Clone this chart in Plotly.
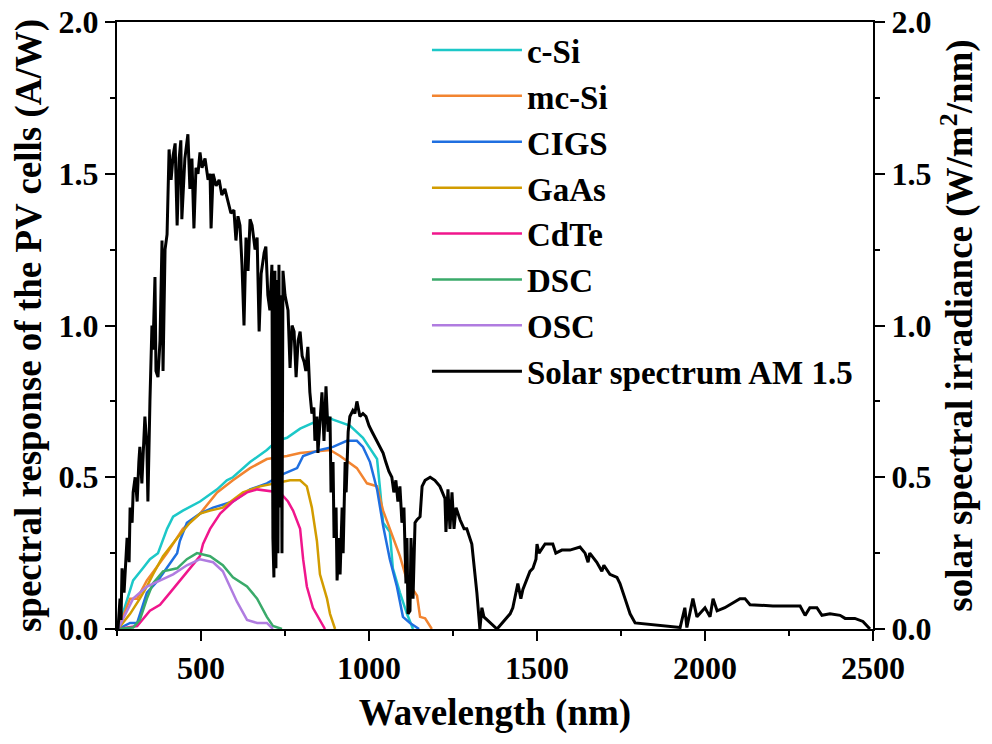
import plotly.graph_objects as go

# ---------------- data ----------------
csi_x = [253, 280, 298, 327, 348, 372, 399, 417, 446, 497, 548, 577, 595, 646, 696, 726, 756, 795, 833, 875, 893, 943, 982, 1012, 1024, 1033, 1042, 1062, 1071, 1092, 1113, 1131]
csi_y = [0, 0.10, 0.16, 0.20, 0.23, 0.25, 0.33, 0.37, 0.39, 0.42, 0.46, 0.49, 0.50, 0.55, 0.59, 0.62, 0.63, 0.66, 0.68, 0.70, 0.69, 0.67, 0.63, 0.58, 0.56, 0.46, 0.35, 0.32, 0.20, 0.12, 0.05, 0.0]

mcsi_x = [253, 280, 289, 310, 339, 399, 446, 497, 548, 595, 646, 696, 756, 795, 884, 914, 964, 994, 1024, 1042, 1071, 1092, 1113, 1143, 1152, 1167, 1187]
mcsi_y = [0, 0.08, 0.10, 0.10, 0.16, 0.25, 0.33, 0.38, 0.45, 0.49, 0.53, 0.56, 0.57, 0.58, 0.59, 0.57, 0.53, 0.48, 0.47, 0.39, 0.30, 0.24, 0.16, 0.11, 0.04, 0.035, 0.0]

cigs_x = [253, 289, 310, 339, 372, 429, 437, 458, 497, 536, 595, 646, 696, 744, 786, 804, 854, 893, 934, 964, 982, 1003, 1024, 1042, 1062, 1083, 1101, 1122, 1149]
cigs_y = [0, 0.02, 0.02, 0.12, 0.16, 0.25, 0.29, 0.35, 0.38, 0.40, 0.42, 0.46, 0.48, 0.51, 0.53, 0.57, 0.59, 0.60, 0.62, 0.62, 0.60, 0.55, 0.46, 0.34, 0.23, 0.14, 0.04, 0.02, 0.0]

gaas_x = [253, 289, 318, 339, 357, 387, 429, 467, 497, 527, 565, 625, 676, 726, 765, 795, 815, 830, 845, 854, 875, 884, 899]
gaas_y = [0, 0.05, 0.10, 0.14, 0.18, 0.24, 0.30, 0.35, 0.38, 0.39, 0.40, 0.45, 0.47, 0.48, 0.49, 0.49, 0.47, 0.40, 0.29, 0.18, 0.10, 0.05, 0.0]

cdte_x = [253, 310, 348, 378, 408, 437, 467, 497, 506, 527, 557, 595, 637, 667, 735, 759, 774, 795, 804, 815, 833, 854, 869]
cdte_y = [0, 0.01, 0.06, 0.08, 0.12, 0.16, 0.20, 0.24, 0.28, 0.33, 0.38, 0.42, 0.45, 0.46, 0.45, 0.42, 0.39, 0.33, 0.23, 0.14, 0.07, 0.03, 0.0]

dsc_x = [253, 298, 318, 339, 357, 387, 429, 458, 488, 527, 565, 595, 637, 667, 696, 714, 741]
dsc_y = [0, 0.005, 0.03, 0.10, 0.15, 0.19, 0.20, 0.23, 0.25, 0.24, 0.21, 0.17, 0.14, 0.10, 0.04, 0.01, 0.0]

osc_x = [253, 280, 298, 339, 378, 417, 458, 497, 536, 565, 586, 607, 637, 667, 696, 714]
osc_y = [0, 0.06, 0.10, 0.14, 0.16, 0.18, 0.21, 0.23, 0.22, 0.19, 0.14, 0.09, 0.03, 0.02, 0.02, 0.0]

am15_x = [253, 259, 262, 265, 271, 277, 280, 286, 289, 295, 298, 304, 310, 315, 318, 324, 330, 333, 339, 342,
          348, 354, 357, 363, 366, 372, 378, 384, 387, 393, 399, 405, 411, 417, 423, 429, 435, 440, 443, 452,
          461, 467, 473, 479, 485, 491, 497, 503, 512, 521, 527, 530, 536, 545, 554, 562, 571, 580, 589, 598,
          604, 610, 616, 622, 628, 634, 640, 646, 652, 661, 667, 673, 679, 688, 693, 699, 705, 711, 714, 717,
          720, 723, 726, 729, 732, 735, 738, 741, 744, 750, 759, 765, 771, 777, 783, 789, 795, 801, 807, 812,
          818, 824, 830, 836, 839, 845, 848, 854, 860, 866, 872, 878, 884, 887, 893, 896, 902, 905, 911, 914,
          920, 923, 929, 932, 938, 943, 952, 958, 964, 973, 982, 991, 1000, 1009, 1018, 1024, 1033, 1042, 1050, 1059,
          1068, 1074, 1080, 1086, 1092, 1098, 1104, 1110, 1113, 1116, 1122, 1125, 1131, 1137, 1143, 1152, 1158, 1167, 1182, 1196,
          1211, 1226, 1229, 1235, 1241, 1247, 1253, 1259, 1271, 1283, 1291, 1306, 1321, 1330, 1336, 1342, 1381, 1420, 1428, 1443,
          1452, 1458, 1479, 1488, 1497, 1500, 1506, 1524, 1547, 1556, 1574, 1598, 1628, 1643, 1652, 1657, 1678, 1693, 1699, 1717,
          1738, 1747, 1762, 1777, 1792, 1836, 1926, 1940, 1946, 1964, 1976, 2000, 2015, 2024, 2036, 2059, 2104, 2119, 2134, 2202,
          2283, 2298, 2312, 2333, 2348, 2372, 2402, 2417, 2446, 2470, 2491]
am15_y = [0, 0.10, 0.03, 0.20, 0.12, 0.25, 0.30, 0.22, 0.40, 0.35, 0.45, 0.50, 0.42, 0.55, 0.60, 0.48, 0.62, 0.70, 0.60, 0.42,
          0.75, 1.00, 0.92, 1.16, 0.85, 0.83, 0.95, 1.28, 0.85, 1.25, 1.30, 1.58, 1.48, 1.56, 1.60, 1.33, 1.55, 1.61, 1.35, 1.55,
          1.63, 1.45, 1.55, 1.32, 1.52, 1.50, 1.57, 1.52, 1.55, 1.48, 1.50, 1.32, 1.50, 1.46, 1.48, 1.43, 1.45, 1.41, 1.37, 1.38,
          1.28, 1.36, 1.33, 1.20, 1.00, 1.29, 1.18, 1.35, 1.33, 1.25, 1.29, 0.98, 1.17, 1.24, 1.26, 1.10, 1.05, 1.20, 0.30, 0.17,
          1.18, 0.20, 1.15, 0.25, 1.20, 0.40, 1.10, 0.25, 1.18, 1.10, 1.05, 0.86, 1.00, 0.98, 0.83, 0.95, 0.98, 0.90, 0.88, 0.85,
          0.93, 0.78, 0.71, 0.73, 0.62, 0.70, 0.58, 0.68, 0.78, 0.62, 0.80, 0.65, 0.70, 0.45, 0.55, 0.30, 0.40, 0.16, 0.30, 0.18,
          0.40, 0.25, 0.55, 0.45, 0.65, 0.70, 0.72, 0.71, 0.75, 0.70, 0.71, 0.70, 0.67, 0.65, 0.63, 0.62, 0.60, 0.58, 0.55, 0.52,
          0.50, 0.45, 0.49, 0.42, 0.47, 0.35, 0.40, 0.15, 0.30, 0.05, 0.06, 0.30, 0.10, 0.35, 0.36, 0.37, 0.47, 0.49, 0.50, 0.49,
          0.47, 0.43, 0.32, 0.46, 0.33, 0.45, 0.33, 0.40, 0.36, 0.33, 0.33, 0.28, 0.12, 0.0, 0.07, 0.04, 0.0, 0.05, 0.07, 0.15,
          0.10, 0.13, 0.19, 0.20, 0.23, 0.28, 0.25, 0.28, 0.28, 0.25, 0.26, 0.26, 0.27, 0.25, 0.22, 0.25, 0.22, 0.19, 0.21, 0.18,
          0.17, 0.15, 0.10, 0.05, 0.02, 0.015, 0.005, 0.07, 0.005, 0.10, 0.04, 0.07, 0.04, 0.10, 0.06, 0.07, 0.10, 0.10, 0.08, 0.076,
          0.076, 0.045, 0.07, 0.07, 0.045, 0.05, 0.045, 0.035, 0.035, 0.025, 0.0]

cells = [
    ("c-Si", csi_x, csi_y, "#1cc8c8"),
    ("mc-Si", mcsi_x, mcsi_y, "#f28430"),
    ("CIGS", cigs_x, cigs_y, "#1f6fe0"),
    ("GaAs", gaas_x, gaas_y, "#d29c00"),
    ("CdTe", cdte_x, cdte_y, "#f0168c"),
    ("DSC", dsc_x, dsc_y, "#3aaa6a"),
    ("OSC", osc_x, osc_y, "#b07ce0"),
]

FONT = "Liberation Serif"

fig = go.Figure()
for i, (name, xs, ys, col) in enumerate(cells):
    fig.add_trace(go.Scatter(x=xs, y=ys, mode="lines", name=name,
                             line=dict(color=col, width=2.5), legendgroup=f"g{i}"))
fig.add_trace(go.Scatter(x=am15_x, y=am15_y, mode="lines", name="Solar spectrum AM 1.5",
                         line=dict(color="black", width=3), yaxis="y2", legendgroup="g9"))

tickfont = dict(family=FONT, size=32, color="black", weight="bold")
titlefont = dict(family=FONT, size=37, color="black", weight="bold")

common_axis = dict(showline=True, linecolor="black", linewidth=2, showgrid=False, zeroline=False,
                   ticks="outside", ticklen=10, tickwidth=2, tickcolor="black", tickfont=tickfont,
                   automargin=False, ticklabeloverflow="allow")

fig.update_layout(
    width=984, height=736,
    margin=dict(l=109, r=119, t=14, b=115),
    paper_bgcolor="white", plot_bgcolor="white",
    xaxis=dict(range=[250, 2500], dtick=500, tick0=0, mirror=True,
               minor=dict(dtick=250, tick0=0, ticks="outside", ticklen=5, tickwidth=2, tickcolor="black"),
               title=dict(text="Wavelength (nm)", font=titlefont, standoff=14),
               **common_axis),
    yaxis=dict(range=[0, 2], dtick=0.5, tickformat=".1f",
               minor=dict(dtick=0.25, ticks="outside", ticklen=5, tickwidth=2, tickcolor="black"),
               title=dict(text="spectral response of the PV cells (A/W)", font=titlefont, standoff=8),
               **common_axis),
    yaxis2=dict(range=[0, 2], dtick=0.5, tickformat=".1f", overlaying="y", side="right",
                minor=dict(dtick=0.25, ticks="outside", ticklen=5, tickwidth=2, tickcolor="black"),
                title=dict(text="solar spectral irradiance (W/m<sup>2</sup>/nm)", font=titlefont, standoff=16),
                **common_axis),
    legend=dict(x=0.41, y=1.0, xanchor="left", yanchor="top", bgcolor="rgba(0,0,0,0)",
                font=dict(family=FONT, size=33, color="black", weight="bold"),
                traceorder="grouped", tracegroupgap=0, itemwidth=90, maxheight=700),
    showlegend=True,
)

fig.write_html("out.html")
